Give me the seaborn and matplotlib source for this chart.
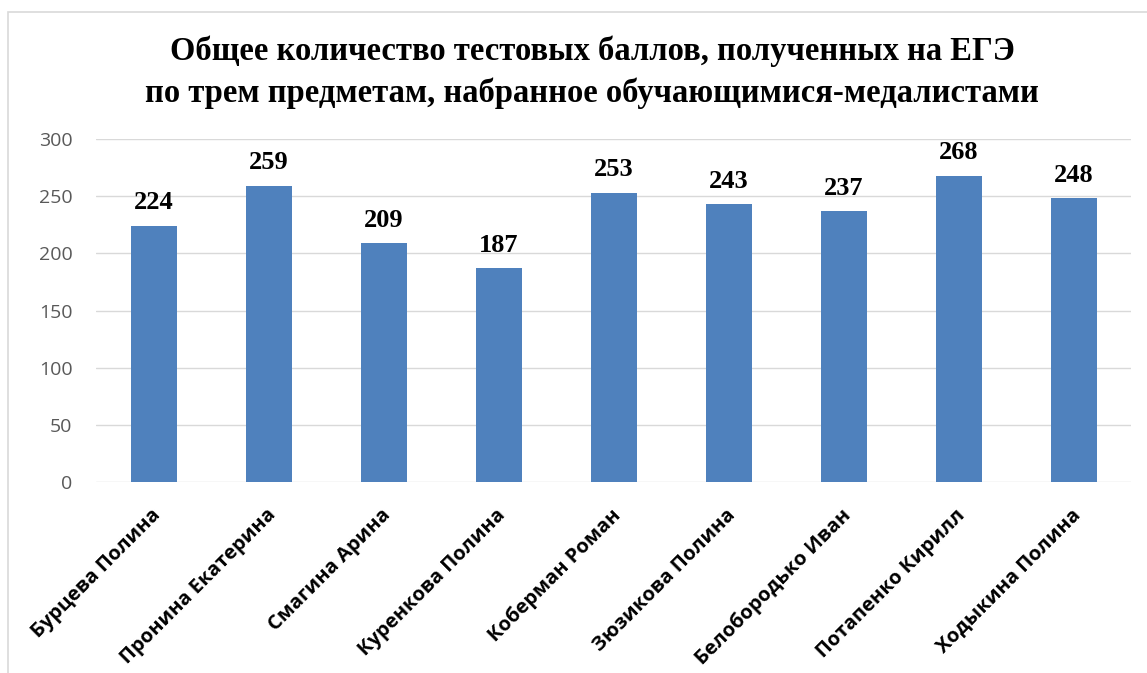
import matplotlib
matplotlib.use("Agg")
import matplotlib.pyplot as plt
import matplotlib.transforms as mtransforms
import seaborn as sns
import pandas as pd
from matplotlib.patches import Rectangle

names = ["Бурцева Полина", "Пронина Екатерина", "Смагина Арина", "Куренкова Полина",
         "Коберман Роман", "Зюзикова Полина", "Белобородько Иван", "Потапенко Кирилл",
         "Ходыкина Полина"]
scores = [224, 259, 209, 187, 253, 243, 237, 268, 248]
yticks = [0, 50, 100, 150, 200, 250, 300]
title = "Общее количество тестовых баллов, полученных на ЕГЭ\nпо трем предметам, набранное обучающимися-медалистами"

sns.set_theme(style="white")
plt.rcParams['font.family'] = ['Open Sans', 'DejaVu Sans']

df = pd.DataFrame({"name": names, "score": scores})

fig = plt.figure(figsize=(11.47, 6.73), dpi=100)
ax = fig.add_axes([96/1147, 1 - 482/673, (1131-96)/1147, 343/673])

sns.barplot(data=df, x="name", y="score", color="#4F81BD", saturation=1,
            width=0.4, ax=ax, zorder=3)
for p in ax.patches:
    p.set_edgecolor("none")

ax.set_ylim(0, 300)
ax.set_xlim(-0.5, len(names) - 0.5)
ax.set_yticks(yticks)
ax.set_yticklabels([str(t) for t in yticks], color="#595959", fontsize=14,
                   family=['Open Sans', 'DejaVu Sans'])
ax.tick_params(axis='y', length=0, pad=17)
ax.tick_params(axis='x', length=0, pad=8)
ax.grid(axis='y', color="#D9D9D9", linewidth=1, zorder=0)
for s in ax.spines.values():
    s.set_visible(False)
ax.set_xlabel("")
ax.set_ylabel("")
ax.set_xticks(range(len(names)))
ax.set_xticklabels(names, rotation=45, ha='right', rotation_mode='anchor',
                   fontsize=14.5, fontweight='bold', color="black")
offset = mtransforms.ScaledTranslation(-3/100, -12/100, fig.dpi_scale_trans)
for lbl in ax.get_xticklabels():
    lbl.set_transform(lbl.get_transform() + offset)

for i, v in enumerate(scores):
    ax.text(i, v + 10, str(v), ha='center', va='bottom', fontsize=19,
            fontweight='bold', family='Liberation Serif', color='black')

fig.text(592/1147, 1 - 72/673, title, ha='center', va='center', fontsize=23.5,
         fontweight='bold', family='Liberation Serif', linespacing=1.43,
         color='black')

fig.patches.append(Rectangle((8/1147, -0.1), 1.2, 1 - 12/673 + 0.1,
                             transform=fig.transFigure, fill=False,
                             edgecolor="#D9D9D9", linewidth=1.2))

fig.savefig("out.png", dpi=100)
